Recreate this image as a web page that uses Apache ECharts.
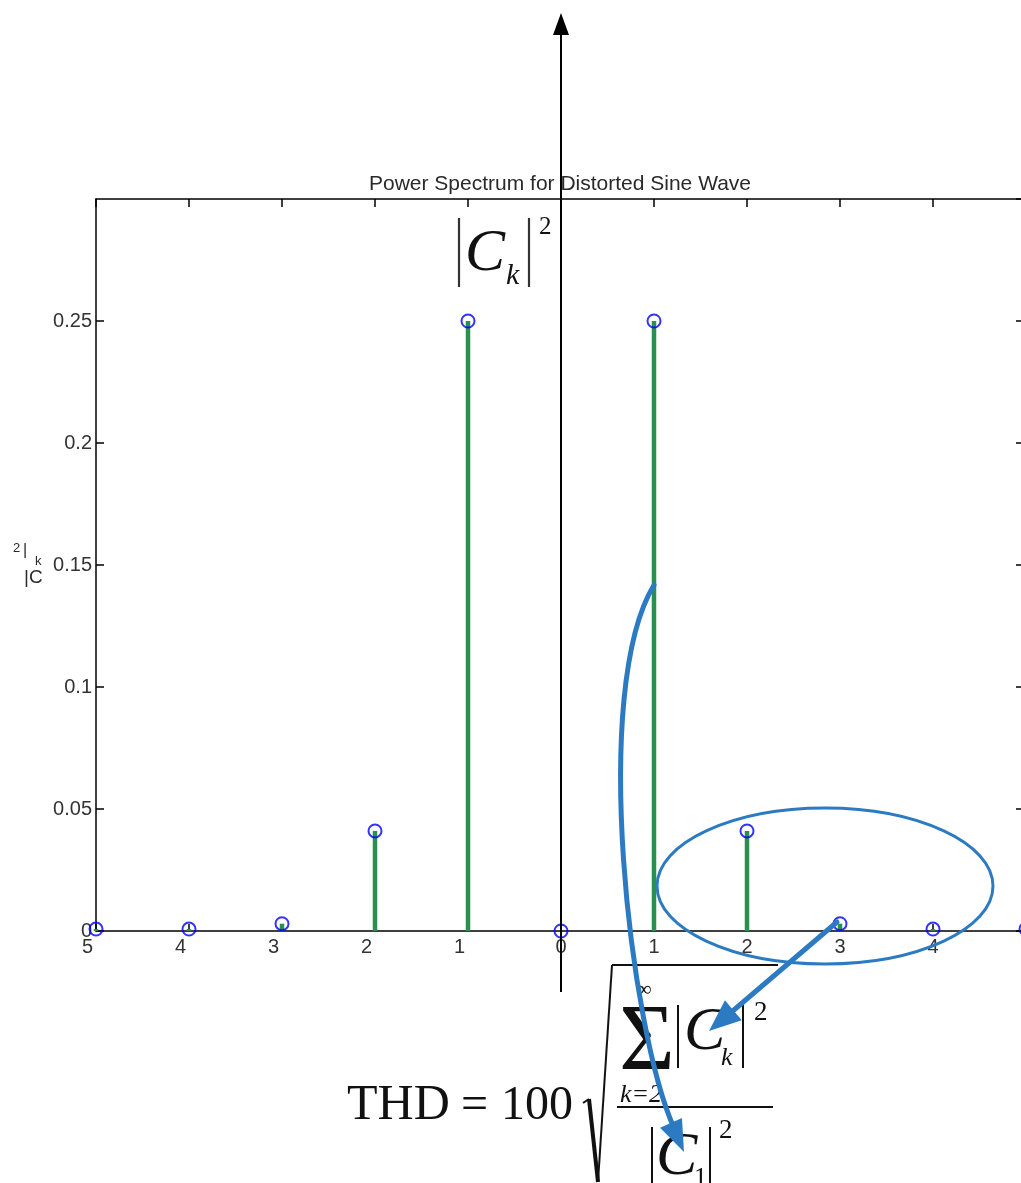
<!DOCTYPE html>
<html>
<head>
<meta charset="utf-8">
<script src="https://cdn.jsdelivr.net/npm/echarts@6/dist/echarts.min.js"></script>
<style>
html,body{margin:0;padding:0;background:#fff;}
#chart{width:1021px;height:1183px;}
</style>
</head>
<body>
<div id="chart"></div>
<script>
// ---- data ----
const harmonics = [-5, -4, -3, -2, -1, 0, 1, 2, 3, 4, 5];
const power = [0.0008, 0.0008, 0.003, 0.041, 0.25, 0, 0.25, 0.041, 0.003, 0.0008, 0.0008];
const chartTitle = 'Power Spectrum for Distorted Sine Wave';

const points = harmonics.map((k, i) => [k, power[i]]);

const SANS = '"Liberation Sans", Arial, Helvetica, sans-serif';
const SERIF = '"Liberation Serif", "Times New Roman", serif';
const BLUE = '#2c7bc2';
const TXT = '#2a2a2a';

function arrowHead(tip, from, len, hw) {
  const dx = tip[0] - from[0], dy = tip[1] - from[1];
  const L = Math.sqrt(dx * dx + dy * dy);
  const ux = dx / L, uy = dy / L;
  const bx = tip[0] - ux * len, by = tip[1] - uy * len;
  return [[tip[0], tip[1]], [bx - uy * hw, by + ux * hw], [bx + uy * hw, by - ux * hw]];
}
function txt(x, y, text, size, opts) {
  opts = opts || {};
  return {
    type: 'text', z: 100, x: x, y: y,
    style: {
      text: text, fontSize: size, fontFamily: opts.family || SERIF,
      fontStyle: opts.italic ? 'italic' : 'normal',
      fill: opts.color || '#111', align: opts.align || 'left', verticalAlign: 'middle'
    }
  };
}
function seg(x1, y1, x2, y2, w, color) {
  return { type: 'line', z: 100, shape: { x1, y1, x2, y2 }, style: { stroke: color || '#111', lineWidth: w } };
}

const chart = echarts.init(document.getElementById('chart'));

const axisLineStyle = { color: '#000', width: 1.5 };

const graphics = [
  // central arrow axis
  seg(561, 30, 561, 992, 2, '#000'),
  { type: 'polygon', z: 100, shape: { points: [[561, 13], [553, 35], [569, 35]] }, style: { fill: '#000' } },
  // big |C_k|^2 label
  seg(459, 218, 459, 287, 2.2, '#333'),
  seg(529, 218, 529, 287, 2.2, '#333'),
  txt(465, 254, 'C', 60, { italic: true }),
  txt(506, 276, 'k', 30, { italic: true }),
  txt(539, 227, '2', 25),
  // y-axis title fragments
  txt(13, 548, '2', 13, { family: SANS, color: TXT }),
  txt(23, 551, '|', 16, { family: SANS, color: TXT }),
  txt(35, 561, 'k', 13, { family: SANS, color: TXT }),
  txt(24, 578, '|C', 19, { family: SANS, color: TXT }),
  // THD formula
  txt(347, 1106, 'THD', 50),
  txt(461, 1106, '=', 48),
  txt(501, 1106, '100', 48),
  seg(583, 1103, 589, 1099, 2),
  seg(589, 1099, 598, 1182, 4),
  seg(598, 1182, 612, 965, 2),
  seg(612, 965, 778, 965, 2),
  txt(636, 990, '\u221E', 22),
  txt(619, 1045, '\u03A3', 96),
  txt(620, 1095, 'k=2', 26, { italic: true }),
  seg(678, 1005, 678, 1068, 2),
  txt(684, 1033, 'C', 62, { italic: true }),
  txt(721, 1058, 'k', 26, { italic: true }),
  seg(743, 1005, 743, 1068, 2),
  txt(754, 1013, '2', 27),
  seg(617, 1107, 773, 1107, 2),
  seg(652, 1127, 652, 1190, 2),
  txt(656, 1158, 'C', 62, { italic: true }),
  txt(694, 1178, '1', 26),
  seg(710, 1127, 710, 1190, 2),
  txt(719, 1131, '2', 27),
  // blue annotations
  { type: 'ellipse', z: 110, shape: { cx: 825, cy: 886, rx: 168, ry: 78 }, style: { stroke: BLUE, lineWidth: 3, fill: null } },
  { type: 'bezierCurve', z: 110, shape: { x1: 654, y1: 585, cpx1: 590, cpy1: 690, cpx2: 630, cpy2: 1030, x2: 674, y2: 1128 },
    style: { stroke: BLUE, lineWidth: 5, fill: null, lineCap: 'round' } },
  { type: 'polygon', z: 110, shape: { points: arrowHead([684, 1152], [652, 1080], 32, 12) }, style: { fill: BLUE } },
  { type: 'line', z: 110, shape: { x1: 837, y1: 922, x2: 728, y2: 1015 }, style: { stroke: BLUE, lineWidth: 5, lineCap: 'round' } },
  { type: 'polygon', z: 110, shape: { points: arrowHead([709, 1031], [837, 922], 32, 13) }, style: { fill: BLUE } }
];

chart.setOption({
  animation: false,
  backgroundColor: '#fff',
  title: {
    text: chartTitle, left: 364, top: 169,
    textStyle: { fontFamily: SANS, fontSize: 21, fontWeight: 'normal', color: '#2a2a2a' }
  },
  grid: { left: 96, top: 199, width: 930, height: 732, containLabel: false, outerBoundsMode: 'none' },
  xAxis: [
    {
      type: 'value', position: 'bottom', min: -5, max: 5, interval: 1,
      axisLine: { onZero: false, lineStyle: axisLineStyle },
      axisTick: { inside: true, length: 7, lineStyle: { color: '#000', width: 1.5 } },
      splitLine: { show: false },
      axisLabel: {
        margin: 6, color: '#333', fontFamily: SANS, fontSize: 20,
        formatter: v => v < 0 ? '{n|' + Math.abs(v) + '}' : String(v),
        rich: { n: { padding: [0, 17, 0, 0], fontFamily: SANS, fontSize: 20, color: '#333' } }
      }
    },
    {
      type: 'value', position: 'top', min: -5, max: 5, interval: 1,
      axisLine: { onZero: false, lineStyle: axisLineStyle },
      axisTick: { inside: true, length: 8, lineStyle: { color: '#000', width: 1.5 } },
      splitLine: { show: false }, axisLabel: { show: false }
    }
  ],
  yAxis: [
    {
      type: 'value', position: 'left', min: 0, max: 0.3, interval: 0.05,
      axisLine: { show: true, onZero: false, lineStyle: axisLineStyle },
      axisTick: { show: true, inside: true, length: 8, lineStyle: { color: '#000', width: 1.5 } },
      splitLine: { show: false },
      axisLabel: {
        margin: 4, color: '#333', fontFamily: SANS, fontSize: 20, showMaxLabel: false,
        formatter: v => String(+v.toFixed(2))
      }
    },
    {
      type: 'value', position: 'right', min: 0, max: 0.3, interval: 0.05,
      axisLine: { show: true, onZero: false, lineStyle: axisLineStyle },
      axisTick: { show: true, inside: true, length: 10, lineStyle: { color: '#000', width: 1.5 } },
      splitLine: { show: false }, axisLabel: { show: false }
    }
  ],
  series: [
    {
      type: 'custom', name: 'stems', xAxisIndex: 0, yAxisIndex: 0, z: 2,
      data: points,
      renderItem: function (params, api) {
        const x = api.value(0), y = api.value(1);
        const p0 = api.coord([x, 0]);
        const p1 = api.coord([x, y]);
        return {
          type: 'line',
          shape: { x1: p0[0], y1: p0[1], x2: p1[0], y2: p1[1] },
          style: { stroke: '#2b8f4e', lineWidth: 4.5 }
        };
      }
    },
    {
      type: 'scatter', name: '|Ck|^2', xAxisIndex: 0, yAxisIndex: 0, z: 5,
      data: points, symbol: 'circle', symbolSize: 13,
      itemStyle: { color: 'rgba(0,0,0,0)', borderColor: '#0000ff', borderWidth: 2 }
    }
  ],
  graphic: graphics
});
</script>
</body>
</html>
